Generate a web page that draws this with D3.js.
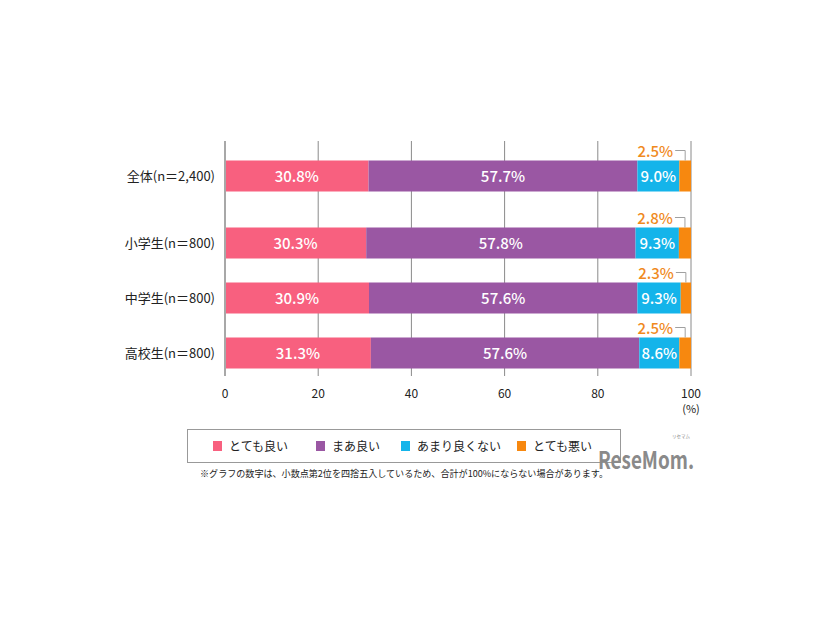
<!DOCTYPE html>
<html>
<head>
<meta charset="utf-8">
<script src="https://cdn.jsdelivr.net/npm/d3@7"></script>
<style>
  body { margin: 0; background: #fff; }
  text { font-family: "Noto Sans CJK JP", "Noto Sans", sans-serif; }
</style>
</head>
<body>
<div id="chart"></div>
<script>
// data
const categories = ['全体(n＝2,400)', '小学生(n＝800)', '中学生(n＝800)', '高校生(n＝800)'];
const seriesNames = ['とても良い', 'まあ良い', 'あまり良くない', 'とても悪い'];
const veryGood = [30.8, 30.3, 30.9, 31.3];
const fairlyGood = [57.7, 57.8, 57.6, 57.6];
const notGood = [9.0, 9.3, 9.3, 8.6];
const veryBad = [2.5, 2.8, 2.3, 2.5];
const xTicks = [0, 20, 40, 60, 80, 100];
const colors = ['#f8607f', '#9a57a3', '#14b4ea', '#f7880f'];
const footnote = '※グラフの数字は、小数点第2位を四捨五入しているため、合計が100%にならない場合があります。';

const width = 826;
const height = 620;

const svg = d3.select('#chart').append('svg')
  .attr('width', width)
  .attr('height', height);

const x = d3.scaleLinear().domain([0, 100]).range([225, 691]).clamp(true);
const y = d3.scalePoint().domain(categories).range([188, 353]);
const barH = 31;
// the total row sits a bit further away from the others
const rowY = (c, i) => y(c) - (i === 0 ? 12 : 0);

const rows = categories.map((c, i) => ({
  cat: c, i, vals: [veryGood[i], fairlyGood[i], notGood[i], veryBad[i]],
}));

const plotTop = 141;
const plotBottom = 376;

// grid lines
svg.append('g')
  .selectAll('line')
  .data(xTicks.slice(1))
  .enter().append('line')
  .attr('x1', d => x(d)).attr('x2', d => x(d))
  .attr('y1', plotTop).attr('y2', plotBottom)
  .attr('stroke', '#8a8a8a')
  .attr('stroke-width', 1);

// bars
rows.forEach((r) => {
  let acc = 0;
  const g = svg.append('g');
  r.vals.forEach((v, k) => {
    const x0 = x(acc);
    const x1 = x(acc + v);
    acc += v;
    g.append('rect')
      .attr('x', x0)
      .attr('y', rowY(r.cat, r.i) - barH / 2)
      .attr('width', Math.max(0, x1 - x0))
      .attr('height', barH)
      .attr('fill', colors[k]);
    if (k < 3) {
      g.append('text')
        .attr('x', (x0 + x1) / 2)
        .attr('y', rowY(r.cat, r.i) + 5.5)
        .attr('text-anchor', 'middle')
        .attr('fill', '#fff')
        .attr('font-size', 15)
        .attr('font-weight', 500)
        .text(`${v.toFixed(1)}%`);
    } else {
      // small slice: label above with a bracket
      const cx = (x0 + x1) / 2;
      const top = rowY(r.cat, r.i) - barH / 2;
      g.append('path')
        .attr('d', `M${cx - 10},${top - 10}H${cx}V${top}`)
        .attr('fill', 'none')
        .attr('stroke', '#a0a0a0')
        .attr('stroke-width', 1);
      g.append('text')
        .attr('x', cx - 12)
        .attr('y', top - 4)
        .attr('text-anchor', 'end')
        .attr('fill', '#f08a1e')
        .attr('font-size', 15)
        .attr('font-weight', 500)
        .text(`${v.toFixed(1)}%`);
    }
  });
});

// left axis line
svg.append('line')
  .attr('x1', x(0)).attr('x2', x(0))
  .attr('y1', plotTop).attr('y2', plotBottom)
  .attr('stroke', '#a8a8a8')
  .attr('stroke-width', 2);

// category labels
svg.append('g')
  .selectAll('text')
  .data(rows)
  .enter().append('text')
  .attr('x', 215)
  .attr('y', d => rowY(d.cat, d.i) + 4.5)
  .attr('text-anchor', 'end')
  .attr('font-size', 13)
  .attr('fill', '#222')
  .text(d => d.cat);

// x tick labels
svg.append('g')
  .selectAll('text')
  .data(xTicks)
  .enter().append('text')
  .attr('x', d => x(d))
  .attr('y', 398)
  .attr('text-anchor', 'middle')
  .attr('font-size', 12)
  .attr('fill', '#222')
  .text(d => d);

svg.append('text')
  .attr('x', x(100))
  .attr('y', 413)
  .attr('text-anchor', 'middle')
  .attr('font-size', 11)
  .attr('fill', '#222')
  .text('(%)');

// legend
const legend = svg.append('g');
legend.append('rect')
  .attr('x', 187.5).attr('y', 429.5)
  .attr('width', 433).attr('height', 33)
  .attr('fill', '#fff')
  .attr('stroke', '#999')
  .attr('stroke-width', 1);

const legendX = [213, 316, 401, 517];
seriesNames.forEach((name, k) => {
  legend.append('rect')
    .attr('x', legendX[k]).attr('y', 441)
    .attr('width', 9).attr('height', 10)
    .attr('fill', colors[k]);
  legend.append('text')
    .attr('x', legendX[k] + 16)
    .attr('y', 450.5)
    .attr('font-size', 12)
    .attr('fill', '#222')
    .text(name);
});

// footnote
svg.append('text')
  .attr('x', 200)
  .attr('y', 477)
  .attr('font-size', 9.5)
  .attr('textLength', 408)
  .attr('lengthAdjust', 'spacingAndGlyphs')
  .attr('fill', '#222')
  .text(footnote);

// watermark
svg.append('text')
  .attr('x', 598)
  .attr('y', 469)
  .attr('font-size', 24)
  .attr('font-weight', 700)
  .attr('textLength', 96)
  .attr('lengthAdjust', 'spacingAndGlyphs')
  .attr('fill', '#8a8a8a')
  .text('ReseMom.');
svg.append('text')
  .attr('x', 672)
  .attr('y', 438)
  .attr('font-size', 4.5)
  .attr('fill', '#8a8a8a')
  .text('リセマム');
</script>
</body>
</html>
